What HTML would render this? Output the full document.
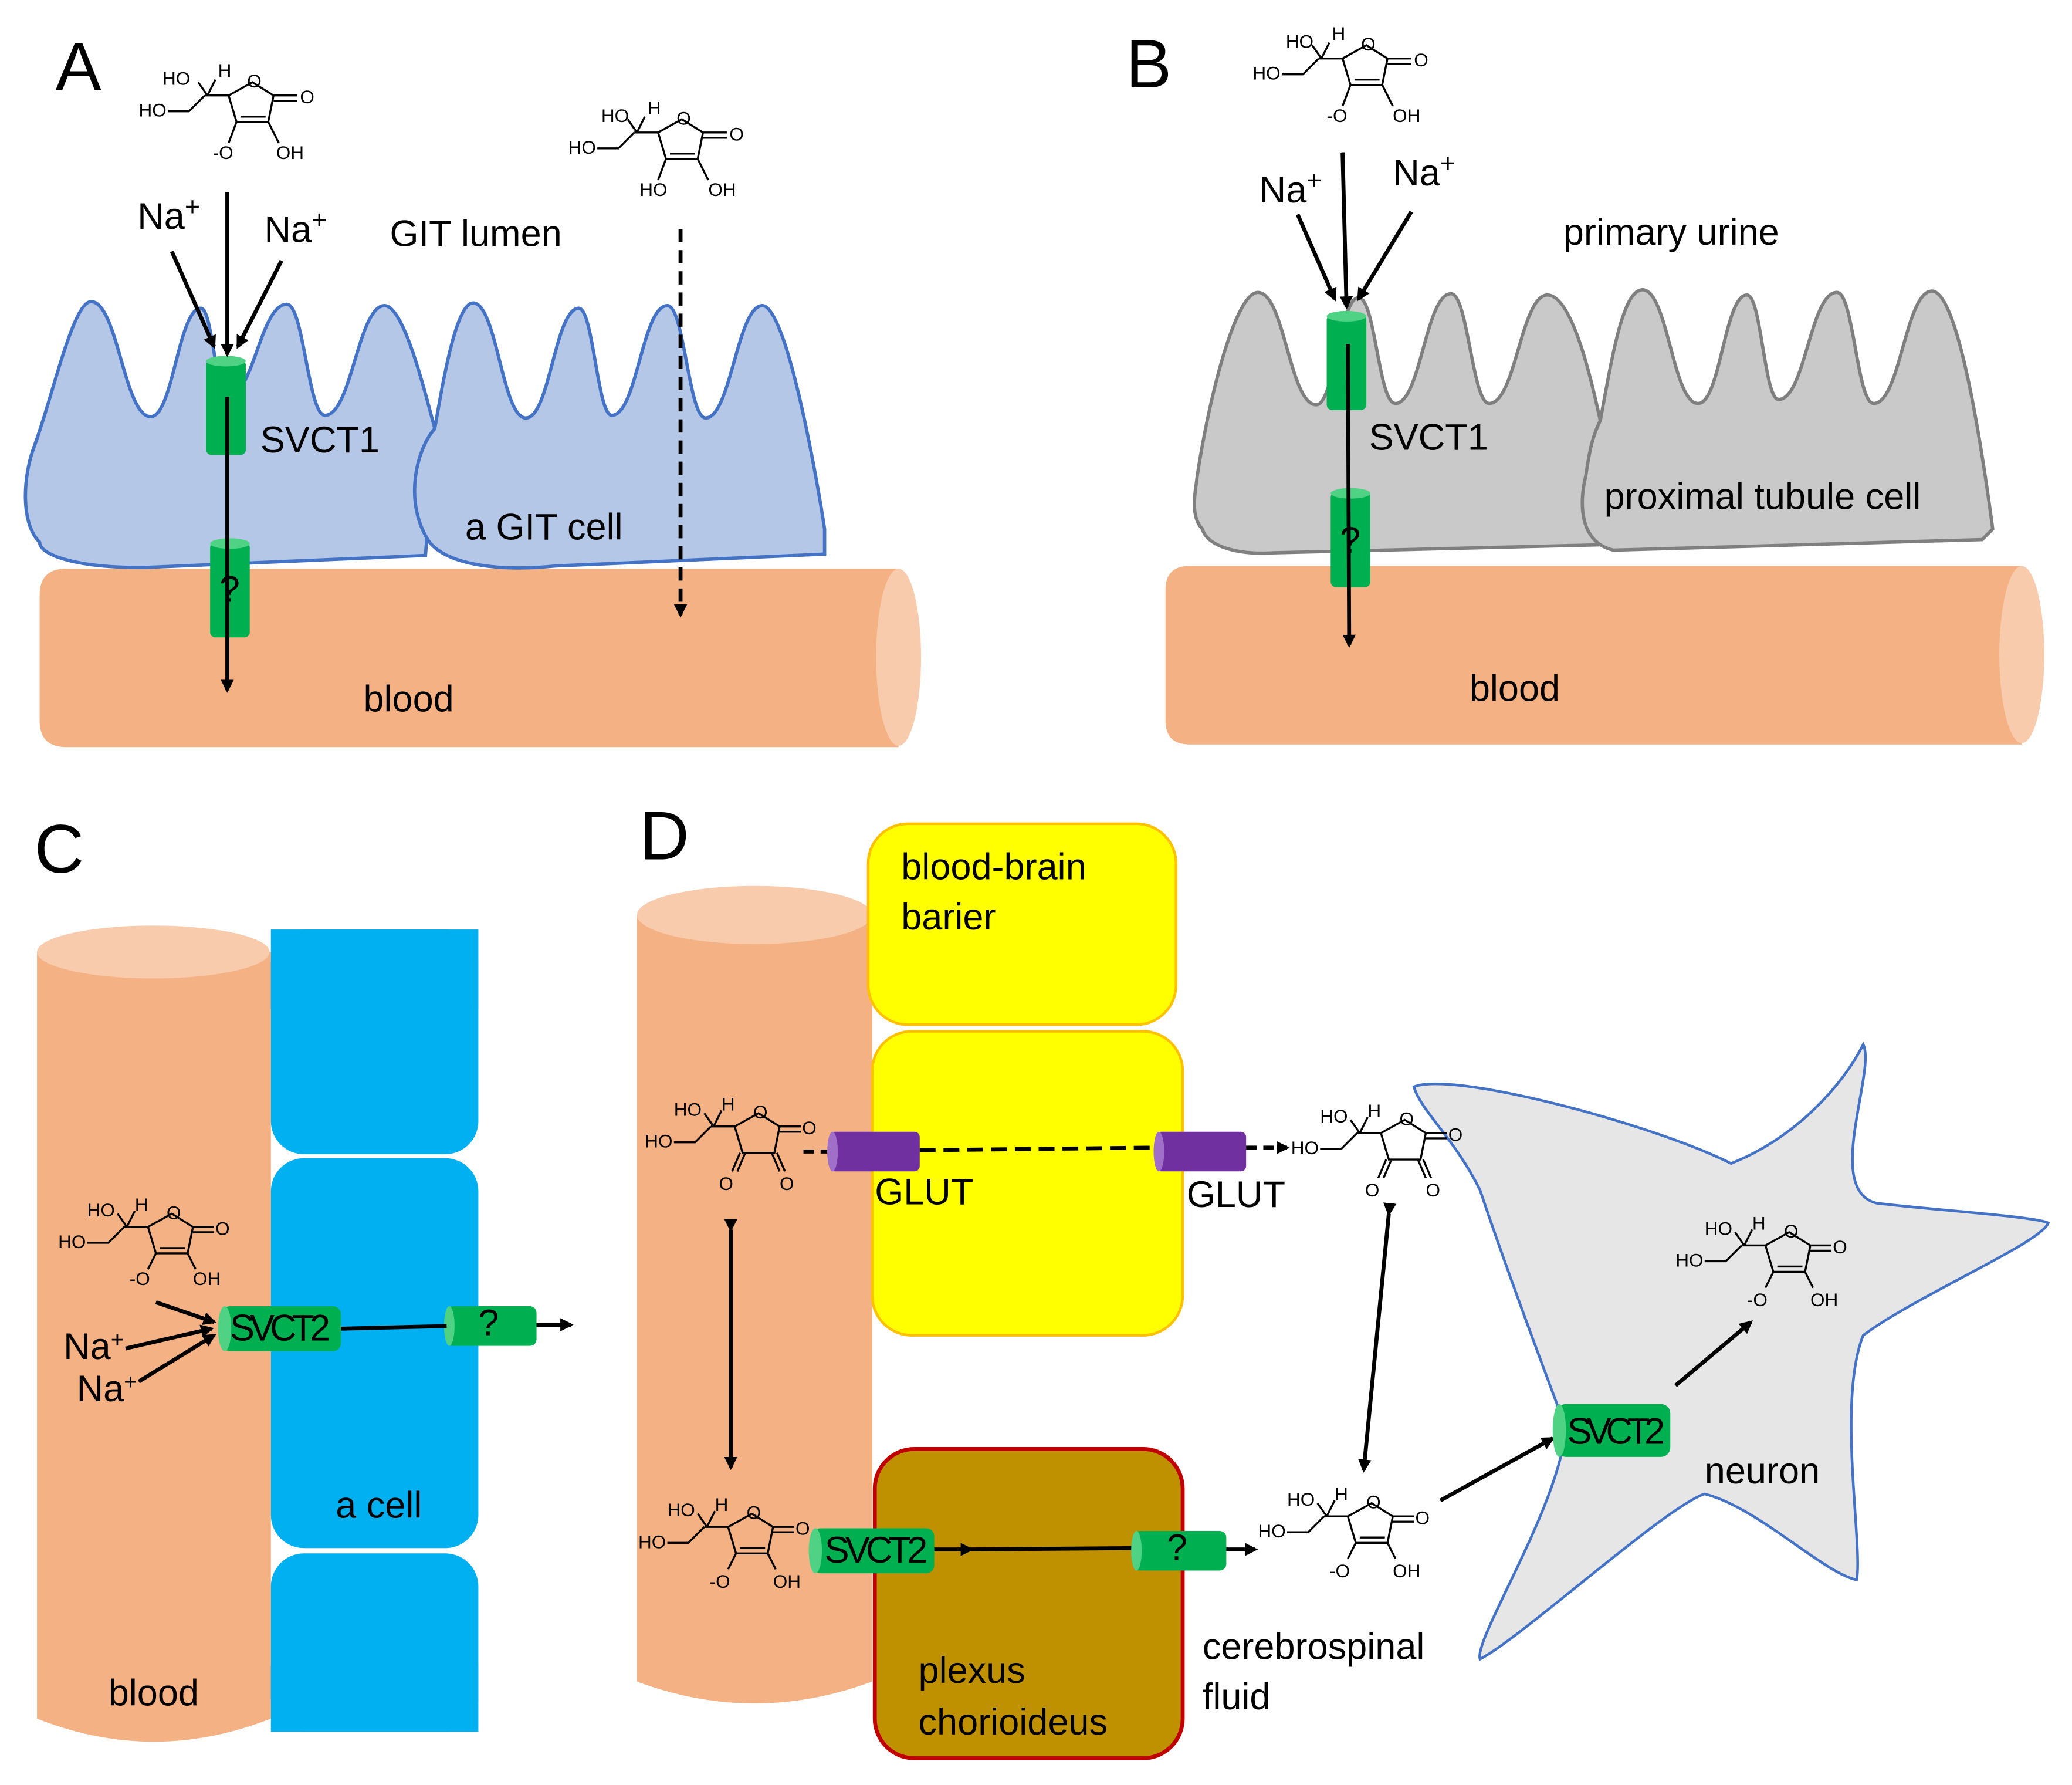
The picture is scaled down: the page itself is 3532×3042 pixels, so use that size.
<!DOCTYPE html>
<html><head><meta charset="utf-8"><style>
html,body{margin:0;padding:0;background:#fff}
svg{display:block}
text{font-family:"Liberation Sans",sans-serif}
.m text{font-size:14px;fill:#000}
.m line,.m polyline,.m polygon{stroke:#000;stroke-width:1.5;fill:none}
.lbl{font-size:28px;fill:#000}
.big{font-size:52px;fill:#000}
.a{stroke:#000;stroke-width:3;fill:none}
</style></head><body>
<svg width="3532" height="3042" viewBox="0 0 1568 1350" xmlns="http://www.w3.org/2000/svg">
<defs>
<marker id="ah" markerWidth="10" markerHeight="10" refX="8" refY="5" orient="auto" markerUnits="userSpaceOnUse"><path d="M0,0 L10,5 L0,10 Z" fill="#000"/></marker>
</defs>

<!-- ================= PANEL A ================= -->
<text class="big" x="42" y="68">A</text>
<path d="M50,430 H680 V565 H50 Q30,565 30,545 V450 Q30,430 50,430 Z" fill="#f4b183"/>
<ellipse cx="680" cy="497" rx="17" ry="67" fill="#f8cbad"/>
<path d="M30,410 C15,395 18,360 25,340 C40,300 55,228 69,228 C89,228 94,315 114,315 C131,315 135,233 152,233 C161,233 163,300 172,300 C192,300 197,230 217,230 C230,230 233,314 246,314 C266,314 271,231 291,231 C305,231 320,290 329,324 L322,420 L112,429 C60,430 30,420 30,410 Z" fill="#b4c7e7" stroke="#4472c4" stroke-width="2.5"/>
<path d="M329,324 C335,290 345,229 358,229 C376,229 380,316 398,316 C416,316 420,233 438,233 C449,233 452,314 463,314 C482,314 486,231 505,231 C518,231 521,316 534,316 C553,316 558,231 577,231 C595,231 618,360 624,400 L624,419 L420,428 C380,432 340,428 325,410 C305,380 315,340 329,324 Z" fill="#b4c7e7" stroke="#4472c4" stroke-width="2.5"/>
<rect x="156" y="272" width="30" height="72" rx="4" fill="#00b050"/><ellipse cx="171" cy="273" rx="15" ry="4" fill="#4fd283"/>
<rect x="159" y="410" width="30" height="72" rx="4" fill="#00b050"/><ellipse cx="174" cy="411" rx="15" ry="4" fill="#4fd283"/>
<text class="lbl" x="166" y="455" font-size="22">?</text>
<line class="a" x1="172" y1="145" x2="172" y2="268" marker-end="url(#ah)"/>
<line class="a" x1="130" y1="190" x2="162" y2="262" marker-end="url(#ah)"/>
<line class="a" x1="213" y1="197" x2="180" y2="262" marker-end="url(#ah)"/>
<line class="a" x1="172" y1="300" x2="172" y2="522" marker-end="url(#ah)"/>
<line class="a" x1="515" y1="173" x2="515" y2="465" stroke-dasharray="10,6" marker-end="url(#ah)"/>
<text class="lbl" x="104" y="173">Na<tspan font-size="20" dy="-10">+</tspan></text>
<text class="lbl" x="200" y="183">Na<tspan font-size="20" dy="-10">+</tspan></text>
<text class="lbl" x="295" y="186">GIT lumen</text>
<text class="lbl" x="197" y="342">SVCT1</text>
<text class="lbl" x="352" y="408" font-size="26">a GIT cell</text>
<text class="lbl" x="275" y="538">blood</text>

<g class="m" transform="translate(105,50)">
<text x="0" y="38">HO</text><polyline points="22,34 38,34 50,22"/><text x="18" y="14">HO</text><line x1="45" y1="12" x2="52" y2="22"/><text x="60" y="8">H</text><line x1="58" y1="10" x2="52" y2="22"/>
<polygon points="68,22 86,12 102,22 98,42 74,42"/><line x1="50" y1="22" x2="68" y2="22"/><text x="82" y="16">O</text>
<line x1="102" y1="22" x2="120" y2="22"/><line x1="102" y1="26" x2="120" y2="26"/><text x="122" y="28">O</text>
<line x1="77" y1="38" x2="96" y2="38"/><line x1="74" y1="42" x2="68" y2="58"/><text x="56" y="70">-O</text><line x1="98" y1="42" x2="106" y2="58"/><text x="104" y="70">OH</text>
</g>
<g class="m" transform="translate(430,78)">
<text x="0" y="38">HO</text><polyline points="22,34 38,34 50,22"/><text x="25" y="14">HO</text><line x1="45" y1="12" x2="52" y2="22"/><text x="60" y="8">H</text><line x1="58" y1="10" x2="52" y2="22"/>
<polygon points="68,22 86,12 102,22 98,42 74,42"/><line x1="50" y1="22" x2="68" y2="22"/><text x="82" y="16">O</text>
<line x1="102" y1="22" x2="120" y2="22"/><line x1="102" y1="26" x2="120" y2="26"/><text x="122" y="28">O</text>
<line x1="77" y1="38" x2="96" y2="38"/><line x1="74" y1="42" x2="68" y2="58"/><text x="54" y="70">HO</text><line x1="98" y1="42" x2="106" y2="58"/><text x="106" y="70">OH</text>
</g>

<!-- ================= PANEL B ================= -->
<text class="big" x="852" y="66">B</text>
<path d="M900,428 H1530 V563 H900 Q882,563 882,545 V446 Q882,428 900,428 Z" fill="#f4b183"/>
<ellipse cx="1530" cy="495" rx="17" ry="67" fill="#f8cbad"/>
<path d="M910,400 C900,390 905,370 906,360 C915,300 935,221 952,221 C972,221 976,306 996,306 C1010,306 1014,225 1028,225 C1041,225 1043,305 1056,305 C1075,305 1079,222 1098,222 C1111,222 1114,305 1127,305 C1147,305 1151,223 1171,223 C1190,223 1205,290 1211,318 L1209,412 L964,418 C930,420 912,410 910,400 Z" fill="#c9c9c9" stroke="#7f7f7f" stroke-width="2.5"/>
<path d="M1211,318 C1220,270 1228,219 1243,219 C1262,219 1266,305 1285,305 C1302,305 1305,223 1322,223 C1333,223 1335,302 1346,302 C1366,302 1370,221 1390,221 C1403,221 1405,305 1418,305 C1438,305 1442,220 1462,220 C1482,220 1500,340 1508,400 L1500,408 L1221,416 C1195,410 1195,380 1200,360 C1203,340 1205,330 1211,318 Z" fill="#c9c9c9" stroke="#7f7f7f" stroke-width="2.5"/>
<rect x="1004" y="238" width="30" height="72" rx="4" fill="#00b050"/><ellipse cx="1019" cy="239" rx="15" ry="4" fill="#4fd283"/>
<rect x="1007" y="372" width="30" height="72" rx="4" fill="#00b050"/><ellipse cx="1022" cy="373" rx="15" ry="4" fill="#4fd283"/>
<text class="lbl" x="1014" y="418" font-size="22">?</text>
<line class="a" x1="1016" y1="115" x2="1019" y2="232" marker-end="url(#ah)"/>
<line class="a" x1="982" y1="162" x2="1010" y2="226" marker-end="url(#ah)"/>
<line class="a" x1="1068" y1="160" x2="1028" y2="226" marker-end="url(#ah)"/>
<line class="a" x1="1020" y1="260" x2="1021" y2="488" marker-end="url(#ah)"/>
<text class="lbl" x="953" y="153">Na<tspan font-size="20" dy="-10">+</tspan></text>
<text class="lbl" x="1054" y="140">Na<tspan font-size="20" dy="-10">+</tspan></text>
<text class="lbl" x="1183" y="185">primary urine</text>
<text class="lbl" x="1036" y="340">SVCT1</text>
<text class="lbl" x="1214" y="385">proximal tubule cell</text>
<text class="lbl" x="1112" y="530">blood</text>
<g class="m" transform="translate(948,22)">
<text x="0" y="38">HO</text><polyline points="22,34 38,34 50,22"/><text x="25" y="14">HO</text><line x1="45" y1="12" x2="52" y2="22"/><text x="60" y="8">H</text><line x1="58" y1="10" x2="52" y2="22"/>
<polygon points="68,22 86,12 102,22 98,42 74,42"/><line x1="50" y1="22" x2="68" y2="22"/><text x="82" y="16">O</text>
<line x1="102" y1="22" x2="120" y2="22"/><line x1="102" y1="26" x2="120" y2="26"/><text x="122" y="28">O</text>
<line x1="77" y1="38" x2="96" y2="38"/><line x1="74" y1="42" x2="68" y2="58"/><text x="56" y="70">-O</text><line x1="98" y1="42" x2="106" y2="58"/><text x="106" y="70">OH</text>
</g>

<!-- ================= PANEL C ================= -->
<text class="big" x="26" y="660">C</text>
<path d="M28,720 H205 V1300 Q116,1335 28,1300 Z" fill="#f4b183"/>
<ellipse cx="116" cy="720" rx="88" ry="20" fill="#f8cbad"/>
<rect x="205" y="703" width="157" height="170" rx="25" fill="#00b0f0"/>
<rect x="205" y="703" width="157" height="60" fill="#00b0f0"/>
<rect x="205" y="876" width="157" height="295" rx="25" fill="#00b0f0"/>
<rect x="205" y="1175" width="157" height="135" rx="25" fill="#00b0f0"/>
<rect x="205" y="1260" width="157" height="50" fill="#00b0f0"/>
<rect x="168" y="988" width="90" height="34" rx="6" fill="#00b050"/><ellipse cx="170" cy="1005" rx="5" ry="17" fill="#4fd283"/>
<text class="lbl" x="174" y="1014" font-size="22" textLength="76">SVCT2</text>
<rect x="338" y="988" width="68" height="30" rx="5" fill="#00b050"/><ellipse cx="340" cy="1003" rx="4" ry="15" fill="#4fd283"/>
<text class="lbl" x="362" y="1010" font-size="22">?</text>
<line class="a" x1="258" y1="1005" x2="338" y2="1003"/>
<line class="a" x1="406" y1="1002" x2="432" y2="1002" marker-end="url(#ah)"/>
<line class="a" x1="118" y1="985" x2="162" y2="1000" marker-end="url(#ah)"/>
<line class="a" x1="95" y1="1020" x2="160" y2="1005" marker-end="url(#ah)"/>
<line class="a" x1="105" y1="1045" x2="162" y2="1010" marker-end="url(#ah)"/>
<text class="lbl" x="48" y="1028" font-size="24">Na<tspan font-size="17" dy="-9">+</tspan></text>
<text class="lbl" x="58" y="1060" font-size="24">Na<tspan font-size="17" dy="-9">+</tspan></text>
<text class="lbl" x="254" y="1148">a cell</text>
<text class="lbl" x="82" y="1290">blood</text>
<g class="m" transform="translate(44,906)">
<text x="0" y="38">HO</text><polyline points="22,34 38,34 50,22"/><text x="22" y="14">HO</text><line x1="45" y1="12" x2="52" y2="22"/><text x="58" y="10">H</text><line x1="58" y1="10" x2="52" y2="22"/>
<polygon points="68,22 86,12 102,22 98,42 74,42"/><line x1="50" y1="22" x2="68" y2="22"/><text x="82" y="16">O</text>
<line x1="102" y1="22" x2="118" y2="22"/><line x1="102" y1="26" x2="118" y2="26"/><text x="119" y="28">O</text>
<line x1="77" y1="38" x2="96" y2="38"/><line x1="74" y1="42" x2="68" y2="54"/><text x="54" y="66">-O</text><line x1="98" y1="42" x2="104" y2="54"/><text x="102" y="66">OH</text>
</g>

<!-- ================= PANEL D ================= -->
<text class="big" x="484" y="650">D</text>
<path d="M482,692 H660 V1272 Q571,1305 482,1272 Z" fill="#f4b183"/>
<ellipse cx="571" cy="692" rx="89" ry="22" fill="#f8cbad"/>
<rect x="657" y="623" width="233" height="152" rx="30" fill="#ffff00" stroke="#ffc000" stroke-width="2"/>
<rect x="660" y="780" width="235" height="230" rx="30" fill="#ffff00" stroke="#ffc000" stroke-width="2"/>
<rect x="662" y="1096" width="233" height="234" rx="30" fill="#bf9000" stroke="#c00000" stroke-width="3"/>
<text class="lbl" x="682" y="665">blood-brain</text>
<text class="lbl" x="682" y="703">barier</text>
<text class="lbl" x="695" y="1273">plexus</text>
<text class="lbl" x="695" y="1312">chorioideus</text>
<path d="M1070,822 C1100,810 1250,850 1310,880 C1360,860 1395,820 1410,790 C1420,810 1380,900 1420,910 C1460,915 1540,920 1550,925 C1545,940 1450,980 1410,1010 C1390,1060 1410,1170 1405,1195 C1380,1190 1330,1140 1290,1130 C1260,1140 1150,1240 1120,1255 C1115,1240 1180,1140 1185,1080 C1170,1040 1140,960 1120,900 C1100,860 1075,840 1070,822 Z" fill="#e7e6e6" stroke="#4472c4" stroke-width="2"/>
<text class="lbl" x="1290" y="1122">neuron</text>
<text class="lbl" x="910" y="1255">cerebrospinal</text>
<text class="lbl" x="910" y="1293">fluid</text>
<rect x="628" y="856" width="68" height="30" rx="4" fill="#7030a0"/><ellipse cx="630" cy="871" rx="4" ry="15" fill="#a070c8"/>
<rect x="875" y="856" width="68" height="30" rx="4" fill="#7030a0"/><ellipse cx="877" cy="871" rx="4" ry="15" fill="#a070c8"/>
<text class="lbl" x="662" y="911" font-size="23">GLUT</text>
<text class="lbl" x="898" y="913" font-size="23">GLUT</text>
<line class="a" x1="608" y1="871" x2="626" y2="871" stroke-dasharray="8,5"/>
<line class="a" x1="696" y1="870" x2="875" y2="868" stroke-dasharray="12,6"/>
<line class="a" x1="943" y1="868" x2="974" y2="868" stroke-dasharray="8,5" marker-end="url(#ah)"/>
<line class="a" x1="553" y1="930" x2="553" y2="1110" marker-start="url(#ah)" marker-end="url(#ah)"/>
<line class="a" x1="1051" y1="918" x2="1032" y2="1112" marker-start="url(#ah)" marker-end="url(#ah)"/>
<rect x="615" y="1156" width="92" height="34" rx="6" fill="#00b050"/><ellipse cx="617" cy="1173" rx="5" ry="17" fill="#4fd283"/>
<text class="lbl" x="624" y="1182" font-size="23" textLength="78">SVCT2</text>
<line class="a" x1="707" y1="1172" x2="735" y2="1172" marker-end="url(#ah)"/>
<line class="a" x1="735" y1="1172" x2="858" y2="1171"/>
<rect x="858" y="1158" width="70" height="30" rx="5" fill="#00b050"/><ellipse cx="860" cy="1173" rx="4" ry="15" fill="#4fd283"/>
<text class="lbl" x="883" y="1180" font-size="22">?</text>
<line class="a" x1="928" y1="1172" x2="950" y2="1172" marker-end="url(#ah)"/>
<line class="a" x1="1090" y1="1135" x2="1175" y2="1088" marker-end="url(#ah)"/>
<rect x="1178" y="1062" width="86" height="40" rx="7" fill="#00b050"/><ellipse cx="1180" cy="1082" rx="5" ry="20" fill="#4fd283"/>
<text class="lbl" x="1186" y="1092" font-size="23" textLength="74">SVCT2</text>
<line class="a" x1="1268" y1="1048" x2="1325" y2="1000" marker-end="url(#ah)"/>

<g class="m" transform="translate(488,830)">
<text x="0" y="38">HO</text><polyline points="22,34 38,34 50,22"/><text x="22" y="14">HO</text><line x1="45" y1="12" x2="52" y2="22"/><text x="58" y="10">H</text><line x1="58" y1="10" x2="52" y2="22"/>
<polygon points="68,22 86,12 102,22 98,42 74,42"/><line x1="50" y1="22" x2="68" y2="22"/><text x="82" y="16">O</text>
<line x1="102" y1="22" x2="118" y2="22"/><line x1="102" y1="26" x2="118" y2="26"/><text x="119" y="28">O</text>
<line x1="72" y1="42" x2="66" y2="56"/><line x1="76" y1="42" x2="70" y2="56"/><text x="56" y="70">O</text><line x1="96" y1="42" x2="102" y2="56"/><line x1="100" y1="42" x2="106" y2="56"/><text x="102" y="70">O</text>
</g>
<g class="m" transform="translate(977,835)">
<text x="0" y="38">HO</text><polyline points="22,34 38,34 50,22"/><text x="22" y="14">HO</text><line x1="45" y1="12" x2="52" y2="22"/><text x="58" y="10">H</text><line x1="58" y1="10" x2="52" y2="22"/>
<polygon points="68,22 86,12 102,22 98,42 74,42"/><line x1="50" y1="22" x2="68" y2="22"/><text x="82" y="16">O</text>
<line x1="102" y1="22" x2="118" y2="22"/><line x1="102" y1="26" x2="118" y2="26"/><text x="119" y="28">O</text>
<line x1="72" y1="42" x2="66" y2="56"/><line x1="76" y1="42" x2="70" y2="56"/><text x="56" y="70">O</text><line x1="96" y1="42" x2="102" y2="56"/><line x1="100" y1="42" x2="106" y2="56"/><text x="102" y="70">O</text>
</g>
<g class="m" transform="translate(483,1133)">
<text x="0" y="38">HO</text><polyline points="22,34 38,34 50,22"/><text x="22" y="14">HO</text><line x1="45" y1="12" x2="52" y2="22"/><text x="58" y="10">H</text><line x1="58" y1="10" x2="52" y2="22"/>
<polygon points="68,22 86,12 102,22 98,42 74,42"/><line x1="50" y1="22" x2="68" y2="22"/><text x="82" y="16">O</text>
<line x1="102" y1="22" x2="118" y2="22"/><line x1="102" y1="26" x2="118" y2="26"/><text x="119" y="28">O</text>
<line x1="77" y1="38" x2="96" y2="38"/><line x1="74" y1="42" x2="68" y2="54"/><text x="54" y="68">-O</text><line x1="98" y1="42" x2="104" y2="54"/><text x="102" y="68">OH</text>
</g>
<g class="m" transform="translate(952,1125)">
<text x="0" y="38">HO</text><polyline points="22,34 38,34 50,22"/><text x="22" y="14">HO</text><line x1="45" y1="12" x2="52" y2="22"/><text x="58" y="10">H</text><line x1="58" y1="10" x2="52" y2="22"/>
<polygon points="68,22 86,12 102,22 98,42 74,42"/><line x1="50" y1="22" x2="68" y2="22"/><text x="82" y="16">O</text>
<line x1="102" y1="22" x2="118" y2="22"/><line x1="102" y1="26" x2="118" y2="26"/><text x="119" y="28">O</text>
<line x1="77" y1="38" x2="96" y2="38"/><line x1="74" y1="42" x2="68" y2="54"/><text x="54" y="68">-O</text><line x1="98" y1="42" x2="104" y2="54"/><text x="102" y="68">OH</text>
</g>
<g class="m" transform="translate(1268,920)">
<text x="0" y="38">HO</text><polyline points="22,34 38,34 50,22"/><text x="22" y="14">HO</text><line x1="45" y1="12" x2="52" y2="22"/><text x="58" y="10">H</text><line x1="58" y1="10" x2="52" y2="22"/>
<polygon points="68,22 86,12 102,22 98,42 74,42"/><line x1="50" y1="22" x2="68" y2="22"/><text x="82" y="16">O</text>
<line x1="102" y1="22" x2="118" y2="22"/><line x1="102" y1="26" x2="118" y2="26"/><text x="119" y="28">O</text>
<line x1="77" y1="38" x2="96" y2="38"/><line x1="74" y1="42" x2="68" y2="54"/><text x="54" y="68">-O</text><line x1="98" y1="42" x2="104" y2="54"/><text x="102" y="68">OH</text>
</g>
</svg>
</body></html>
